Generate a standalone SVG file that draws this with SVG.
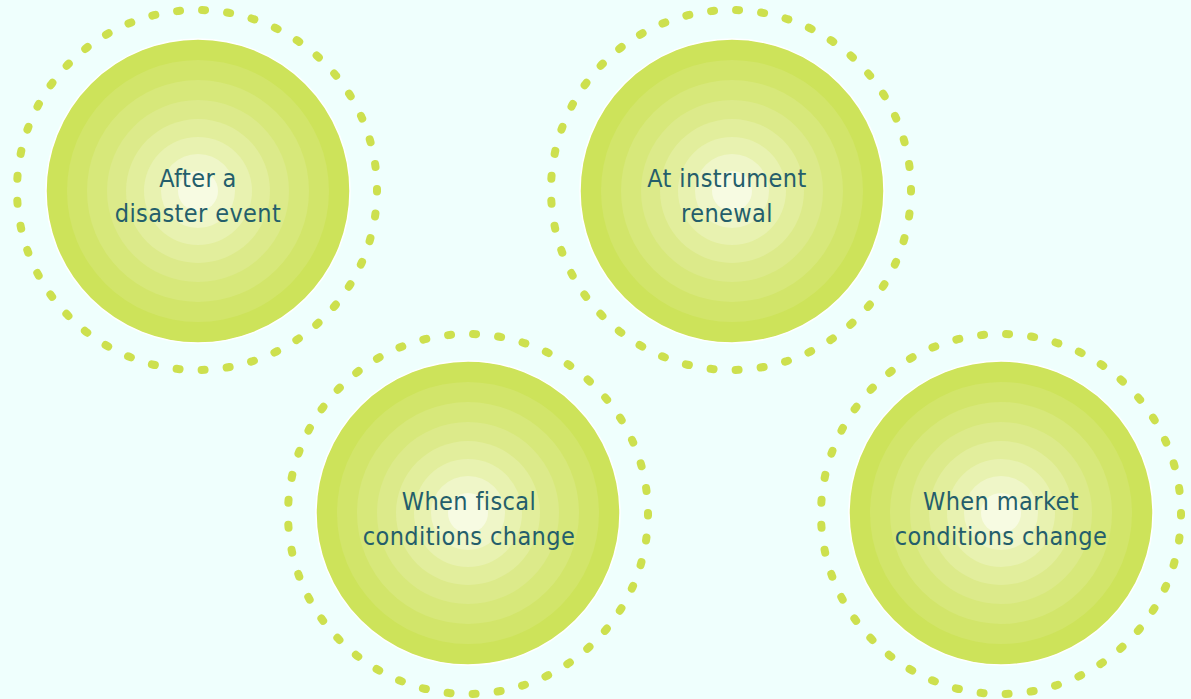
<svg xmlns="http://www.w3.org/2000/svg" xmlns:xlink="http://www.w3.org/1999/xlink" width="1191" height="699" viewBox="0 0 1191 699">
<style>
.ring{fill:none;stroke:#cde04e;stroke-width:8;stroke-linecap:round;stroke-dasharray:3 22.133;stroke-dashoffset:1.5}
.lbl{font-family:"DejaVu Sans Condensed","DejaVu Sans",sans-serif;font-stretch:condensed;font-size:25px;letter-spacing:0.4px;fill:#245e6b;text-anchor:middle}
</style>
<defs>
<g id="disc">
<circle r="152" fill="#cde35a" stroke="#ffffff" stroke-width="1.5"/>
<circle r="131" fill="#d2e56a"/>
<circle r="111" fill="#d7e87a"/>
<circle r="91" fill="#dcea8a"/>
<circle r="72" fill="#e2ee9c"/>
<circle r="54" fill="#e8f2b0"/>
<circle r="37" fill="#eff6c8"/>
<circle r="20" fill="#f7fbe2"/>
</g>
</defs>
<rect width="1191" height="699" fill="#effffd"/>
<g id="node-disaster">
<circle class="ring" cx="197" cy="190" r="180"/>
<use xlink:href="#disc" x="198" y="191"/>
<text class="lbl" x="198" y="187">After a</text>
<text class="lbl" x="198" y="222">disaster event</text>
</g>
<g id="node-renewal">
<circle class="ring" cx="731" cy="190" r="180"/>
<use xlink:href="#disc" x="732" y="191"/>
<text class="lbl" x="727" y="187">At instrument</text>
<text class="lbl" x="727" y="222">renewal</text>
</g>
<g id="node-fiscal">
<circle class="ring" cx="468" cy="514" r="180"/>
<use xlink:href="#disc" x="468" y="513"/>
<text class="lbl" x="469" y="510">When fiscal</text>
<text class="lbl" x="469" y="545">conditions change</text>
</g>
<g id="node-market">
<circle class="ring" cx="1001" cy="514" r="180"/>
<use xlink:href="#disc" x="1001" y="513"/>
<text class="lbl" x="1001" y="510">When market</text>
<text class="lbl" x="1001" y="545">conditions change</text>
</g>
<g id="connectors"/>
</svg>
